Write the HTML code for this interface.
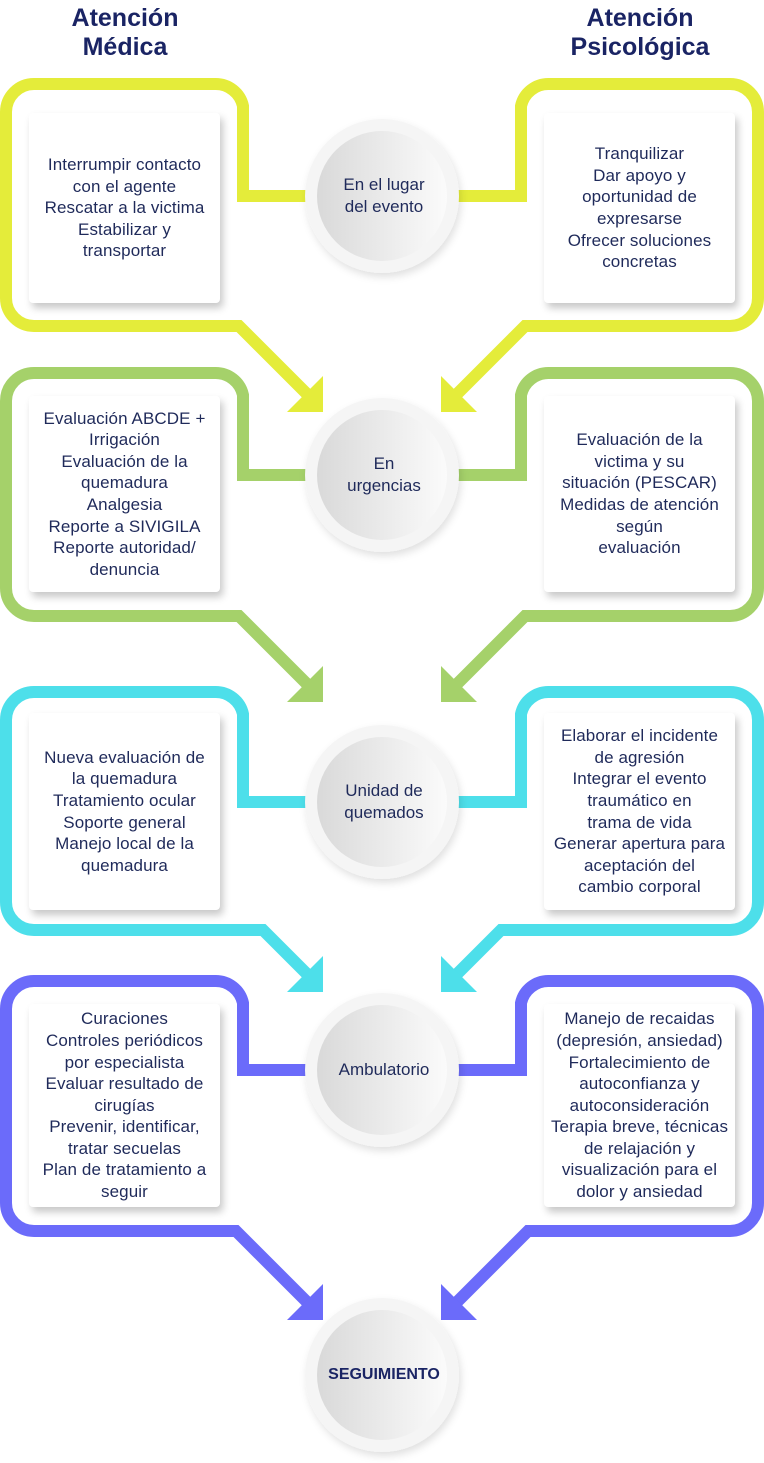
<!DOCTYPE html>
<html><head><meta charset="utf-8"><style>
body{margin:0;width:764px;height:1463px;background:#fff;position:relative;overflow:hidden;font-family:"Liberation Sans",sans-serif;}
svg{position:absolute;left:0;top:0}
.h{position:absolute;color:#1a2464;font-weight:bold;font-size:25px;line-height:29px;text-align:center}
.box{position:absolute;background:#fff;border-radius:4px;box-shadow:3px 5px 8px rgba(0,0,0,0.22);display:flex;align-items:center;justify-content:center;text-align:center;color:#1f2a5a;font-size:17px;line-height:21.6px;letter-spacing:0.1px}
.c{position:absolute;display:flex;align-items:center;justify-content:center;text-align:center;color:#1f2a5a;font-size:17px;line-height:22px;width:130px;height:130px}
</style></head><body>
<div class="h" style="left:40px;top:4px;width:170px">Atención<br>Médica</div>
<div class="h" style="left:555px;top:4px;width:170px">Atención<br>Psicológica</div>
<svg width="764" height="1463" viewBox="0 0 764 1463">
<defs>
<linearGradient id="g" x1="0" y1="0" x2="1" y2="0"><stop offset="0" stop-color="#d9d9d9"/><stop offset="1" stop-color="#fbfbfb"/></linearGradient>
<filter id="s" x="-30%" y="-30%" width="160%" height="160%"><feDropShadow dx="2" dy="4" stdDeviation="4" flood-color="#000" flood-opacity="0.12"/></filter>
</defs>
<g fill="none" stroke-width="12" stroke-linejoin="miter">
<path stroke="#e4ec3a" d="M310,196 H243 V106 A28,28 0 0 0 215,84 H34 A28,28 0 0 0 6,112 V298 A28,28 0 0 0 34,326 H239 L312,399"/>
<path stroke="#e4ec3a" d="M454,196 H521 V106 A28,28 0 0 1 549,84 H730 A28,28 0 0 1 758,112 V298 A28,28 0 0 1 730,326 H525 L452,399"/>
<path stroke="#a5d16a" d="M310,475 H243 V395 A28,28 0 0 0 215,373 H34 A28,28 0 0 0 6,401 V588 A28,28 0 0 0 34,616 H239 L312,689"/>
<path stroke="#a5d16a" d="M454,475 H521 V395 A28,28 0 0 1 549,373 H730 A28,28 0 0 1 758,401 V588 A28,28 0 0 1 730,616 H525 L452,689"/>
<path stroke="#4ddfea" d="M310,802 H243 V714 A28,28 0 0 0 215,692 H34 A28,28 0 0 0 6,720 V902 A28,28 0 0 0 34,930 H263 L312,979"/>
<path stroke="#4ddfea" d="M454,802 H521 V714 A28,28 0 0 1 549,692 H730 A28,28 0 0 1 758,720 V902 A28,28 0 0 1 730,930 H501 L452,979"/>
<path stroke="#6b6bfa" d="M310,1070 H243 V1003 A28,28 0 0 0 215,981 H34 A28,28 0 0 0 6,1009 V1203 A28,28 0 0 0 34,1231 H236 L312,1307"/>
<path stroke="#6b6bfa" d="M454,1070 H521 V1003 A28,28 0 0 1 549,981 H730 A28,28 0 0 1 758,1009 V1203 A28,28 0 0 1 730,1231 H528 L452,1307"/>
</g>
<g>
<polygon fill="#e4ec3a" points="323,376 323,412 287,412"/><polygon fill="#e4ec3a" points="441,376 441,412 477,412"/>
<polygon fill="#a5d16a" points="323,666 323,702 287,702"/><polygon fill="#a5d16a" points="441,666 441,702 477,702"/>
<polygon fill="#4ddfea" points="323,956 323,992 287,992"/><polygon fill="#4ddfea" points="441,956 441,992 477,992"/>
<polygon fill="#6b6bfa" points="323,1284 323,1320 287,1320"/><polygon fill="#6b6bfa" points="441,1284 441,1320 477,1320"/>
</g>
<g>
<circle cx="382" cy="196" r="77" fill="#f5f5f5" filter="url(#s)"/><circle cx="382" cy="196" r="65" fill="url(#g)"/>
<circle cx="382" cy="475" r="77" fill="#f5f5f5" filter="url(#s)"/><circle cx="382" cy="475" r="65" fill="url(#g)"/>
<circle cx="382" cy="802" r="77" fill="#f5f5f5" filter="url(#s)"/><circle cx="382" cy="802" r="65" fill="url(#g)"/>
<circle cx="382" cy="1070" r="77" fill="#f5f5f5" filter="url(#s)"/><circle cx="382" cy="1070" r="65" fill="url(#g)"/>
<circle cx="382" cy="1375" r="77" fill="#f5f5f5" filter="url(#s)"/><circle cx="382" cy="1375" r="65" fill="url(#g)"/>
</g>
</svg>
<div class="c" style="left:319px;top:131px">En el lugar<br>del evento</div>
<div class="c" style="left:319px;top:410px">En<br>urgencias</div>
<div class="c" style="left:319px;top:737px">Unidad de<br>quemados</div>
<div class="c" style="left:319px;top:1005px">Ambulatorio</div>
<div class="c" style="left:319px;top:1310px;font-weight:bold;font-size:16px;color:#1a2464">SEGUIMIENTO</div>

<div class="box" style="left:29px;top:113px;width:191px;height:190px">Interrumpir contacto<br>con el agente<br>Rescatar a la victima<br>Estabilizar y<br>transportar</div>
<div class="box" style="left:544px;top:113px;width:191px;height:190px">Tranquilizar<br>Dar apoyo y<br>oportunidad de<br>expresarse<br>Ofrecer soluciones<br>concretas</div>
<div class="box" style="left:29px;top:396px;width:191px;height:196px">Evaluación ABCDE +<br>Irrigación<br>Evaluación de la<br>quemadura<br>Analgesia<br>Reporte a SIVIGILA<br>Reporte autoridad/<br>denuncia</div>
<div class="box" style="left:544px;top:396px;width:191px;height:196px">Evaluación de la<br>victima y su<br>situación (PESCAR)<br>Medidas de atención<br>según<br>evaluación</div>
<div class="box" style="left:29px;top:713px;width:191px;height:197px">Nueva evaluación de<br>la quemadura<br>Tratamiento ocular<br>Soporte general<br>Manejo local de la<br>quemadura</div>
<div class="box" style="left:544px;top:713px;width:191px;height:197px">Elaborar el incidente<br>de agresión<br>Integrar el evento<br>traumático en<br>trama de vida<br>Generar apertura para<br>aceptación del<br>cambio corporal</div>
<div class="box" style="left:29px;top:1004px;width:191px;height:203px">Curaciones<br>Controles periódicos<br>por especialista<br>Evaluar resultado de<br>cirugías<br>Prevenir, identificar,<br>tratar secuelas<br>Plan de tratamiento a<br>seguir</div>
<div class="box" style="left:544px;top:1004px;width:191px;height:203px">Manejo de recaidas<br>(depresión, ansiedad)<br>Fortalecimiento de<br>autoconfianza y<br>autoconsideración<br>Terapia breve, técnicas<br>de relajación y<br>visualización para el<br>dolor y ansiedad</div>
</body></html>
